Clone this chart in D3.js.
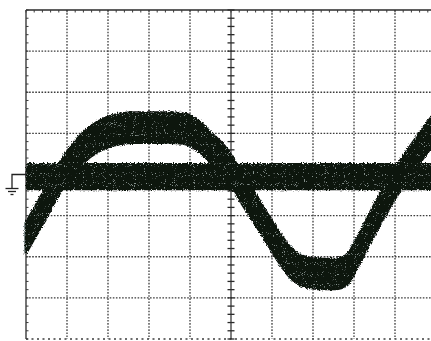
<!DOCTYPE html>
<html>
<head>
<meta charset="utf-8">
<script src="https://cdn.jsdelivr.net/npm/d3@7"></script>
<style>
  body { margin: 0; padding: 0; background: #fff; }
  svg { display: block; }
</style>
</head>
<body>
<svg id="scope" width="431" height="341"></svg>
<script>
// Scope capture: one flat (noisy) channel and one clipped sine, in divisions

const gridX = [0, 1, 2, 3, 4, 5, 6, 7, 8, 9, 10];
const gridY = [-4, -3, -2, -1, 0, 1, 2, 3, 4];

// channel 2 (sine), centre of the trace band, time and level in divisions
const sineTime = [0, 0.44, 0.85, 1.2, 1.56, 1.93, 2.29, 2.66, 3.51, 3.88, 4.2, 4.49, 4.88,
  5.29, 5.71, 6.12, 6.44, 6.76, 7.12, 7.54, 7.83, 8.07, 8.49, 8.9, 9.51, 10];
const sineLevel = [-1.54, -0.77, -0.04, 0.45, 0.79, 1.01, 1.11, 1.14, 1.14, 1.11, 0.94, 0.67, 0.28,
  -0.38, -1.03, -1.69, -2.13, -2.35, -2.42, -2.42, -2.32, -1.91, -1.11, -0.38, 0.52, 1.18];
const sineNoise = 0.36;   // half height of the noise band

// channel 1 (flat line near ground)
const flatTime = [0, 10];
const flatLevel = [-0.05, -0.05];
const flatNoise = 0.33;

const svg = d3.select("#scope");

const x = d3.scaleLinear().domain([0, 10]).range([26, 436]);
const y = d3.scaleLinear().domain([-4, 4]).range([339, 10]);

const defs = svg.append("defs");
const f = defs.append("filter").attr("id", "grain")
  .attr("x", "-5%").attr("y", "-5%").attr("width", "110%").attr("height", "110%");
f.append("feTurbulence").attr("type", "fractalNoise").attr("baseFrequency", 0.8)
  .attr("numOctaves", 2).attr("seed", 3).attr("result", "n");
f.append("feDisplacementMap").attr("in", "SourceGraphic").attr("in2", "n")
  .attr("scale", 4).attr("xChannelSelector", "R").attr("yChannelSelector", "G").attr("result", "d");
f.append("feTurbulence").attr("type", "fractalNoise").attr("baseFrequency", 1.1)
  .attr("numOctaves", 1).attr("seed", 11).attr("result", "n2");
f.append("feColorMatrix").attr("in", "n2").attr("type", "matrix")
  .attr("values", "0 0 0 0 0.24  0 0 0 0 0.29  0 0 0 0 0.27  12 0 0 0 -7.9")
  .attr("result", "spk");
f.append("feComposite").attr("in", "spk").attr("in2", "d").attr("operator", "in").attr("result", "spkIn");
const merge = f.append("feMerge");
merge.append("feMergeNode").attr("in", "d");
merge.append("feMergeNode").attr("in", "spkIn");

// graticule
const grid = svg.append("g");
const dotted = "1.6,1.5";
const gridColor = "#3c3c3c";

grid.selectAll(".vline")
  .data(gridX.filter(d => d !== 0 && d !== 5))
  .join("line")
  .attr("x1", d => x(d)).attr("x2", d => x(d))
  .attr("y1", y(4)).attr("y2", y(-4))
  .attr("stroke", gridColor).attr("stroke-width", 1.3)
  .attr("stroke-dasharray", dotted);

grid.selectAll(".hline")
  .data(gridY.filter(d => d !== 4 && d !== 0))
  .join("line")
  .attr("x1", x(0)).attr("x2", x(10))
  .attr("y1", d => y(d)).attr("y2", d => y(d))
  .attr("stroke", gridColor).attr("stroke-width", 1.3)
  .attr("stroke-dasharray", d => d === -4 ? "2,3.5" : dotted);

// frame (left and top), solid
grid.append("line").attr("x1", x(0)).attr("x2", x(0)).attr("y1", y(4)).attr("y2", y(-4))
  .attr("stroke", "#2a2a2a").attr("stroke-width", 1.3);
grid.append("line").attr("x1", x(0)).attr("x2", x(10)).attr("y1", y(4)).attr("y2", y(4))
  .attr("stroke", "#2a2a2a").attr("stroke-width", 1.3);

// centre axes, solid with minor ticks
grid.append("line").attr("x1", x(5)).attr("x2", x(5)).attr("y1", y(4)).attr("y2", y(-4))
  .attr("stroke", "#2a2a2a").attr("stroke-width", 1.2);
grid.append("line").attr("x1", x(0)).attr("x2", x(10)).attr("y1", y(0)).attr("y2", y(0))
  .attr("stroke", "#2a2a2a").attr("stroke-width", 1.2);

const minorY = d3.range(-20, 21).map(i => i / 5);
const minorX = d3.range(0, 51).map(i => i / 5);

grid.selectAll(".cty").data(minorY).join("line")
  .attr("x1", x(5) - 3.5).attr("x2", x(5) + 3.5)
  .attr("y1", d => y(d)).attr("y2", d => y(d))
  .attr("stroke", "#2a2a2a").attr("stroke-width", 1.3);
grid.selectAll(".ctx").data(minorX).join("line")
  .attr("x1", d => x(d)).attr("x2", d => x(d))
  .attr("y1", y(0) - 3.5).attr("y2", y(0) + 3.5)
  .attr("stroke", "#2a2a2a").attr("stroke-width", 1.3);

// small ticks on frame edges
grid.selectAll(".lt").data(minorY).join("line")
  .attr("x1", x(0)).attr("x2", x(0) + 2.5)
  .attr("y1", d => y(d)).attr("y2", d => y(d))
  .attr("stroke", "#3a3a3a").attr("stroke-width", 1);
grid.selectAll(".tt").data(minorX).join("line")
  .attr("x1", d => x(d)).attr("x2", d => x(d))
  .attr("y1", y(4)).attr("y2", y(4) + 2.5)
  .attr("stroke", "#3a3a3a").attr("stroke-width", 1);

// traces
const traces = svg.append("g").attr("filter", "url(#grain)");

const flatData = flatTime.map((t, i) => ({ t, v: flatLevel[i] }));
const sineData = sineTime.map((t, i) => ({ t, v: sineLevel[i] }));

const flatArea = d3.area()
  .x(d => x(d.t))
  .y0(d => y(d.v - flatNoise))
  .y1(d => y(d.v + flatNoise));

const sineArea = d3.area()
  .curve(d3.curveMonotoneX)
  .x(d => x(d.t))
  .y0(d => y(d.v - sineNoise))
  .y1(d => y(d.v + sineNoise));

traces.append("path").datum(flatData).attr("d", flatArea)
  .attr("fill", "#0d1310");
traces.append("path").datum(sineData).attr("d", sineArea)
  .attr("fill", "#0d1310").attr("stroke", "#0d1310").attr("stroke-width", 3)
  .attr("stroke-linejoin", "round");

// ground reference marker
const gy = y(0);
const gnd = svg.append("g").attr("stroke", "#222").attr("stroke-width", 1.3).attr("fill", "none");
gnd.append("path").attr("d", `M${x(0)},${gy}H12V${gy + 14}`);
gnd.append("line").attr("x1", 5.5).attr("x2", 18.5).attr("y1", gy + 14).attr("y2", gy + 14);
gnd.append("line").attr("x1", 8).attr("x2", 16).attr("y1", gy + 17).attr("y2", gy + 17);
gnd.append("line").attr("x1", 10.5).attr("x2", 13.5).attr("y1", gy + 20).attr("y2", gy + 20);
</script>
</body>
</html>
